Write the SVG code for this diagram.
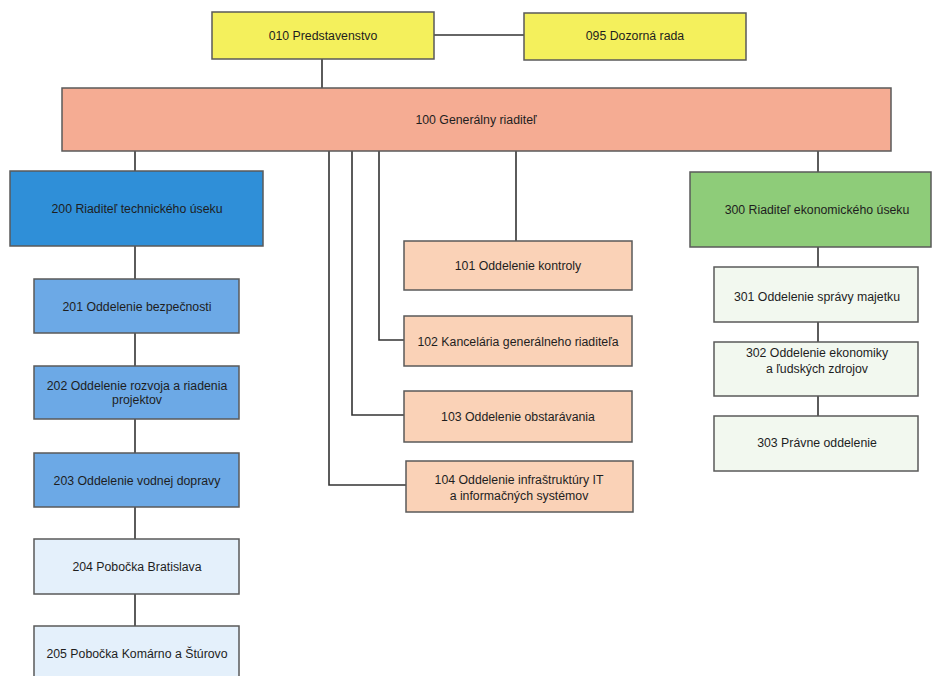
<svg xmlns="http://www.w3.org/2000/svg" width="932" height="676" viewBox="0 0 932 676">
<style>
.n rect{stroke:#5a5a5a;stroke-width:1.5}
.y{fill:#F4F05C}
.s{fill:#F5AC93}
.p{fill:#FAD2B7}
.b0{fill:#2F8FD8}
.b1{fill:#6CA9E6}
.b2{fill:#E4F0FB}
.g0{fill:#8ECC79}
.g1{fill:#F2F8EF}
text{font-family:"Liberation Sans",Arial,sans-serif;font-size:12.3px;fill:#1e1e1e;text-anchor:middle}
.c line,.c path{stroke:#333;stroke-width:1.6;fill:none}
</style>
<rect width="932" height="676" fill="#ffffff"/>
<g class="c" id="connectors">
<line x1="434" y1="35" x2="524" y2="35"/>
<line x1="322" y1="59" x2="322" y2="88"/>
<line x1="135" y1="151" x2="135" y2="171"/>
<line x1="135" y1="246" x2="135" y2="279"/>
<line x1="135" y1="333" x2="135" y2="366"/>
<line x1="135" y1="419" x2="135" y2="453"/>
<line x1="135" y1="507" x2="135" y2="539"/>
<line x1="135" y1="594" x2="135" y2="626"/>
<line x1="516" y1="151" x2="516" y2="241"/>
<path d="M379 151 V340 H404"/>
<path d="M352 151 V415 H404"/>
<path d="M329 151 V485 H406"/>
<line x1="818" y1="151" x2="818" y2="172"/>
<line x1="818" y1="247" x2="818" y2="267"/>
<line x1="818" y1="322" x2="818" y2="342"/>
<line x1="818" y1="396" x2="818" y2="416"/>
</g>
<g class="n" id="n010"><rect class="y" x="212" y="12" width="222" height="47"/><text x="323" y="40">010 Predstavenstvo</text></g>
<g class="n" id="n095"><rect class="y" x="524" y="13" width="222" height="47"/><text x="635" y="40">095 Dozorná rada</text></g>
<g class="n" id="n100"><rect class="s" x="62" y="88" width="829" height="63"/><text x="476" y="124">100 Generálny riaditeľ</text></g>
<g class="n" id="n200"><rect class="b0" x="10" y="171" width="253" height="75"/><text x="137" y="213">200 Riaditeľ technického úseku</text></g>
<g class="n" id="n201"><rect class="b1" x="34" y="279" width="205" height="54"/><text x="137" y="311">201 Oddelenie bezpečnosti</text></g>
<g class="n" id="n202"><rect class="b1" x="34" y="366" width="205" height="53"/><text x="137" y="390">202 Oddelenie rozvoja a riadenia</text><text x="137" y="404">projektov</text></g>
<g class="n" id="n203"><rect class="b1" x="34" y="453" width="205" height="54"/><text x="137" y="485">203 Oddelenie vodnej dopravy</text></g>
<g class="n" id="n204"><rect class="b2" x="34" y="539" width="205" height="55"/><text x="137" y="571">204 Pobočka Bratislava</text></g>
<g class="n" id="n205"><rect class="b2" x="34" y="626" width="205" height="60"/><text x="137" y="658">205 Pobočka Komárno a Štúrovo</text></g>
<g class="n" id="n101"><rect class="p" x="404" y="241" width="228" height="49"/><text x="518" y="270">101 Oddelenie kontroly</text></g>
<g class="n" id="n102"><rect class="p" x="404" y="316" width="228" height="50"/><text x="518" y="346">102 Kancelária generálneho riaditeľa</text></g>
<g class="n" id="n103"><rect class="p" x="404" y="391" width="228" height="51"/><text x="518" y="421">103 Oddelenie obstarávania</text></g>
<g class="n" id="n104"><rect class="p" x="406" y="461" width="227" height="51"/><text x="519" y="484">104 Oddelenie infraštruktúry IT</text><text x="519" y="500">a informačných systémov</text></g>
<g class="n" id="n300"><rect class="g0" x="690" y="172" width="241" height="75"/><text x="817" y="214">300 Riaditeľ ekonomického úseku</text></g>
<g class="n" id="n301"><rect class="g1" x="714" y="267" width="204" height="55"/><text x="817" y="301">301 Oddelenie správy majetku</text></g>
<g class="n" id="n302"><rect class="g1" x="714" y="342" width="204" height="54"/><text x="817" y="357">302 Oddelenie ekonomiky</text><text x="817" y="373">a ľudských zdrojov</text></g>
<g class="n" id="n303"><rect class="g1" x="714" y="416" width="204" height="55"/><text x="817" y="447">303 Právne oddelenie</text></g>
</svg>
